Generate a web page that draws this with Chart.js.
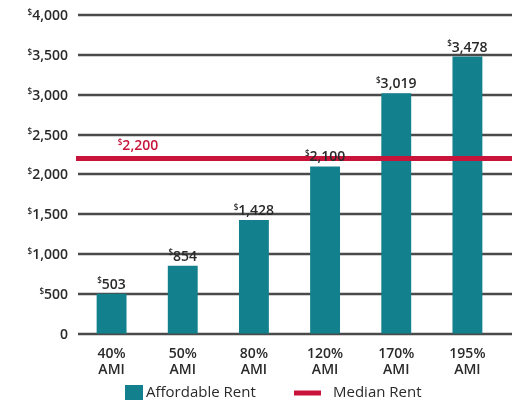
<!DOCTYPE html>
<html>
<head>
<style>
  html, body { margin: 0; padding: 0; background: #fff; }
  #wrap { width: 512px; height: 400px; }
</style>
</head>
<body>
<div id="wrap"><canvas id="myChart"></canvas></div>
<script src="https://cdn.jsdelivr.net/npm/chart.js@4.4.0/dist/chart.umd.min.js"></script>
<script>
    const categories = [["40%", "AMI"], ["50%", "AMI"], ["80%", "AMI"], ["120%", "AMI"], ["170%", "AMI"], ["195%", "AMI"]];
    const affordableRent = [503, 854, 1428, 2100, 3019, 3478];
    const medianRent = 2200;
    const yTicks = [0, 500, 1000, 1500, 2000, 2500, 3000, 3500, 4000];
    const legendNames = ['Affordable Rent', 'Median Rent'];

    const teal = '#12818d';
    const red = '#c8143a';
    const textCol = '#2a2a2a';
    const fontFam = "'Open Sans', sans-serif";
    const weight = '600 ';

    function money(v) {
        return v.toLocaleString('en-US');
    }

    // draws "$" small and raised, then the number
    function supDollar(ctx, num, x, y, align, size, color) {
        ctx.save();
        ctx.fillStyle = color;
        ctx.textBaseline = 'alphabetic';
        ctx.font = weight + size + 'px ' + fontFam;
        const w = ctx.measureText(num).width;
        ctx.font = weight + Math.round(size * 0.6) + 'px ' + fontFam;
        const dw = ctx.measureText('$').width;
        let start = x;
        if (align === 'right') start = x - w - dw;
        if (align === 'center') start = x - (w + dw) / 2;
        ctx.textAlign = 'left';
        ctx.fillText('$', start, y - size * 0.38);
        ctx.font = weight + size + 'px ' + fontFam;
        ctx.fillText(num, start + dw, y);
        ctx.restore();
    }

    const extras = {
        id: 'extras',
        beforeDatasetsDraw(chart) {
            // grid lines, running on to the right edge of the canvas
            const ctx = chart.ctx;
            const y = chart.scales.y;
            const area = chart.chartArea;
            ctx.save();
            ctx.strokeStyle = '#4a4a4a';
            ctx.lineWidth = 2.5;
            yTicks.forEach(t => {
                const py = Math.round(y.getPixelForValue(t));
                ctx.beginPath();
                ctx.moveTo(area.left + 2, py);
                ctx.lineTo(chart.width, py);
                ctx.stroke();
            });
            ctx.restore();
        },
        afterDatasetsDraw(chart) {
            const ctx = chart.ctx;
            const y = chart.scales.y;
            const area = chart.chartArea;
            // median line
            const my = y.getPixelForValue(medianRent);
            ctx.save();
            ctx.strokeStyle = red;
            ctx.lineWidth = 5;
            ctx.beginPath();
            ctx.moveTo(area.left, my);
            ctx.lineTo(chart.width, my);
            ctx.stroke();
            ctx.restore();
            supDollar(ctx, money(medianRent), 138, my - 8, 'center', 14, red);
            // bar labels
            const meta = chart.getDatasetMeta(0);
            meta.data.forEach((bar, i) => {
                supDollar(ctx, money(affordableRent[i]), bar.x, bar.y - 5, 'center', 14, textCol);
            });
            // y tick labels
            yTicks.forEach(t => {
                const py = y.getPixelForValue(t) + 5;
                if (t === 0) {
                    ctx.save();
                    ctx.fillStyle = textCol;
                    ctx.font = weight + '14px ' + fontFam;
                    ctx.textAlign = 'right';
                    ctx.fillText('0', 68, py);
                    ctx.restore();
                } else {
                    supDollar(ctx, money(t), 68, py, 'right', 14, textCol);
                }
            });
            // legend
            ctx.save();
            ctx.fillStyle = teal;
            ctx.fillRect(125, 385, 18, 15);
            ctx.strokeStyle = red;
            ctx.lineWidth = 5;
            ctx.beginPath();
            ctx.moveTo(294, 393);
            ctx.lineTo(321, 393);
            ctx.stroke();
            ctx.fillStyle = textCol;
            ctx.font = '15px ' + fontFam;
            ctx.textBaseline = 'middle';
            ctx.fillText(legendNames[0], 146, 393);
            ctx.fillText(legendNames[1], 333, 393);
            ctx.restore();
        }
    };

    const ctx = document.getElementById('myChart').getContext('2d');
    const myChart = new Chart(ctx, {
        type: 'bar',
        data: {
            labels: categories,
            datasets: [{
                label: legendNames[0],
                data: affordableRent,
                backgroundColor: teal,
                barPercentage: 0.42,
                categoryPercentage: 1
            }]
        },
        options: {
            responsive: true,
            maintainAspectRatio: false,
            animation: false,
            layout: { padding: { left: 68, top: 15, right: 9, bottom: 18 } },
            scales: {
                x: {
                    grid: { display: false },
                    border: { display: false },
                    ticks: { color: textCol, font: { family: fontFam, size: 14, weight: '600', lineHeight: 1.15 }, padding: 4, maxRotation: 0 }
                },
                y: {
                    min: 0,
                    max: 4000,
                    afterBuildTicks: (axis) => { axis.ticks = yTicks.map(v => ({ value: v })); },
                    grid: { display: false },
                    border: { display: false },
                    ticks: { display: false }
                }
            },
            plugins: {
                legend: { display: false },
                tooltip: { enabled: false }
            }
        },
        plugins: [extras]
    });
</script>
</body>
</html>
